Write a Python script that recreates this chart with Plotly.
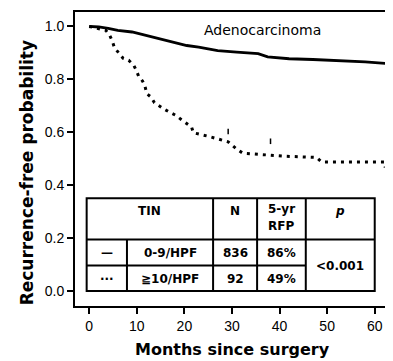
import plotly.graph_objects as go

# ---- data ----
low_months = [0, 2, 4, 6, 9, 12, 15, 18, 20.5, 23, 27, 31, 35.5, 37.5, 42, 47, 52, 58, 63]
low_surv = [1.0, 0.998, 0.993, 0.985, 0.979, 0.966, 0.953, 0.940, 0.928, 0.922, 0.909,
            0.903, 0.897, 0.885, 0.878, 0.875, 0.872, 0.866, 0.859]

high_months = [0, 3.5, 4.3, 4.8, 5.3, 6.2, 7.1, 8.3, 9.3, 9.9, 10.4, 11.2, 11.7, 12.1, 13.0,
               13.7, 14.7, 15.8, 16.8, 18.2, 19.2, 20.4, 21.5, 21.9, 25.0, 29.2, 30.0, 31.1,
               32.3, 40.6, 47.8, 48.8, 62.0, 62.2]
high_surv = [1.0, 0.985, 0.966, 0.947, 0.92, 0.90, 0.88, 0.872, 0.855, 0.834, 0.811, 0.794,
             0.775, 0.746, 0.733, 0.712, 0.699, 0.687, 0.677, 0.664, 0.650, 0.636, 0.62,
             0.598, 0.585, 0.564, 0.551, 0.535, 0.521, 0.51, 0.505, 0.488, 0.488, 0.467]

censor_months = [29.2, 38.1]
censor_surv = [0.603, 0.566]

x_ticks = [0, 10, 20, 30, 40, 50, 60]
y_ticks = [0.0, 0.2, 0.4, 0.6, 0.8, 1.0]
y_tick_labels = ["0.0", "0.2", "0.4", "0.6", "0.8", "1.0"]

table_header = ["TIN", "N", "5-yr", "RFP", "<i>p</i>"]
group_symbols = ["—", "···"]
group_labels = ["0-9/HPF", "≧10/HPF"]
group_n = ["836", "92"]
group_rfp = ["86%", "49%"]
p_value = "<0.001"

# ---- figure ----
fig = go.Figure()
fig.add_trace(go.Scatter(x=low_months, y=low_surv, mode="lines",
                         line=dict(color="black", width=2.8), hoverinfo="skip"))
fig.add_trace(go.Scatter(x=high_months, y=high_surv, mode="lines",
                         line=dict(color="black", width=3, dash="3px,5px"), hoverinfo="skip"))
fig.add_trace(go.Scatter(x=censor_months, y=censor_surv, mode="markers",
                         marker=dict(symbol="line-ns", size=4,
                                     line=dict(color="black", width=1.5)), hoverinfo="skip"))

# table geometry (data coords)
tx = [-0.54, 7.93, 26.03, 35.28, 45.51, 60.0]
ty = [0.0, 0.097, 0.195, 0.351]
lc = dict(color="black", width=2)
fig.add_shape(type="rect", x0=tx[0], x1=tx[5], y0=ty[0], y1=ty[3], xref="x", yref="y",
              line=lc, fillcolor="white", layer="above")
fig.add_shape(type="line", x0=tx[0], x1=tx[5], y0=ty[2], y1=ty[2], line=lc, layer="above")
fig.add_shape(type="line", x0=tx[0], x1=tx[4], y0=ty[1], y1=ty[1], line=lc, layer="above")
fig.add_shape(type="line", x0=tx[1], x1=tx[1], y0=ty[0], y1=ty[2], line=lc, layer="above")
for xv in tx[2:5]:
    fig.add_shape(type="line", x0=xv, x1=xv, y0=ty[0], y1=ty[3], line=lc, layer="above")

tf = dict(family="DejaVu Sans", size=12, color="black", weight="bold")
def tt(x, y, text):
    fig.add_annotation(x=x, y=y, xref="x", yref="y", text=text, showarrow=False,
                       font=tf, xanchor="center", yanchor="middle")

hy = 0.301
tt((tx[0] + tx[2]) / 2, hy, table_header[0])
tt((tx[2] + tx[3]) / 2, hy, table_header[1])
tt((tx[3] + tx[4]) / 2, 0.309, table_header[2])
tt((tx[3] + tx[4]) / 2, 0.245, table_header[3])
tt((tx[4] + tx[5]) / 2, hy, table_header[4])
row_y = [0.145, 0.046]
for i in range(2):
    tt((tx[0] + tx[1]) / 2, row_y[i], group_symbols[i])
    tt((tx[1] + tx[2]) / 2, row_y[i], group_labels[i])
    tt((tx[2] + tx[3]) / 2, row_y[i], group_n[i])
    tt((tx[3] + tx[4]) / 2, row_y[i], group_rfp[i])
tt((tx[4] + tx[5]) / 2, 0.094, p_value)

fig.add_annotation(x=36.5, y=0.987, xref="x", yref="y", text="Adenocarcinoma",
                   showarrow=False, font=dict(family="DejaVu Sans", size=14, color="black"),
                   xanchor="center", yanchor="middle")

# axis titles
fig.add_annotation(x=0.502, y=-0.149, xref="paper", yref="paper", text="Months since surgery",
                   showarrow=False, font=dict(family="DejaVu Sans", size=16, color="black", weight="bold"),
                   xanchor="center", yanchor="middle")
fig.add_annotation(x=-0.1535, y=0.454, xref="paper", yref="paper",
                   text="Recurrence-free probability", textangle=-90,
                   showarrow=False, font=dict(family="DejaVu Sans", size=17, color="black", weight="bold"),
                   xanchor="center", yanchor="middle")

axis_common = dict(showline=True, linewidth=2, linecolor="black", mirror=True,
                   ticks="outside", ticklen=6, tickwidth=1.5, tickcolor="black",
                   showgrid=False, zeroline=False,
                   tickfont=dict(family="Liberation Sans, Arial", size=14, color="black"))
fig.update_xaxes(range=[-2.99, 63.0], tickvals=x_ticks, **axis_common)
fig.update_yaxes(range=[-0.0565, 1.0546], tickvals=y_ticks, ticktext=y_tick_labels, **axis_common)

# page has an 8px body margin, so the figure is drawn 8px smaller and shifted
fig.update_layout(width=385, height=353, margin=dict(l=67, r=2, t=3, b=55),
                  plot_bgcolor="white", paper_bgcolor="white", showlegend=False)

fig.write_html("out.html")
